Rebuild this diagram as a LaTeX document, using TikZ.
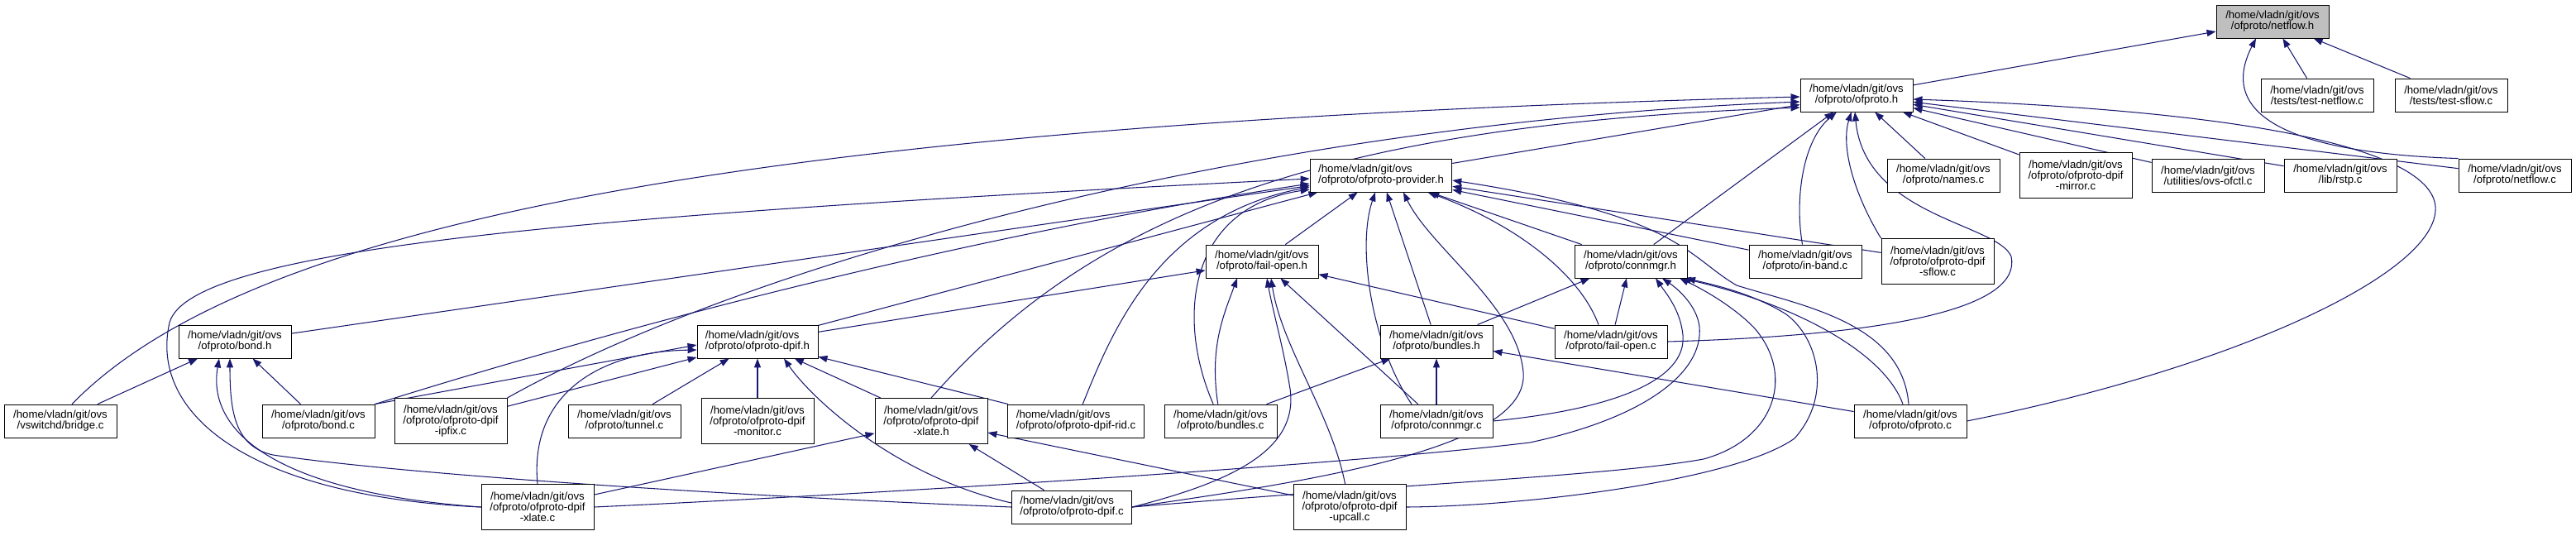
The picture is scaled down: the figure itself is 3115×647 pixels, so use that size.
\documentclass[tikz,border=0pt]{standalone}
\usepackage{fontspec}
\setmainfont{Liberation Sans}
\usetikzlibrary{arrows.meta,calc,backgrounds}
\definecolor{edgeblue}{HTML}{191970}
\definecolor{curgray}{HTML}{BFBFBF}
\newcommand{\ovsroot}{/home/vladn/git/ovs}

\begin{document}
\begin{tikzpicture}[x=0.2mm, y=-0.2mm, >={Triangle[length=2.2mm,width=1.6mm]},
	every node/.style={font=\fontsize{7.5}{7.4}\selectfont},
	fbox/.style={draw=black, line width=0.5pt, fill=white, align=center, minimum width=27.2mm, minimum height=8mm, inner xsep=2mm},
	tall/.style={minimum height=11mm},
	cur/.style={fill=curgray},
	incl/.style={->, edgeblue, line width=0.6pt}]
	\useasboundingbox (0,0) rectangle (3115,647);

	% rank 0-2
	\node[fbox, cur] (nfh) at (2748,26) {\ovsroot\\/ofproto/netflow.h};
	\node[fbox] (oh) at (2245,115) {\ovsroot\\/ofproto/ofproto.h};
	\node[fbox] (tnc) at (2802,115) {\ovsroot\\/tests/test-netflow.c};
	\node[fbox] (tsc) at (2964,115) {\ovsroot\\/tests/test-sflow.c};
	\node[fbox, align=left] (oph) at (1670,212) {\ovsroot\\/ofproto/ofproto-provider.h};
	\node[fbox] (names) at (2350,212) {\ovsroot\\/ofproto/names.c};
	\node[fbox, tall] (mirror) at (2510,212) {\ovsroot\\/ofproto/ofproto-dpif\\-mirror.c};
	\node[fbox] (ofctl) at (2670,212) {\ovsroot\\/utilities/ovs-ofctl.c};
	\node[fbox] (rstp) at (2830,212) {\ovsroot\\/lib/rstp.c};
	\node[fbox] (nfc) at (3041,212) {\ovsroot\\/ofproto/netflow.c};

	% rank 3-4
	\node[fbox] (foh) at (1526,316) {\ovsroot\\/ofproto/fail-open.h};
	\node[fbox] (cmh) at (1972,316) {\ovsroot\\/ofproto/connmgr.h};
	\node[fbox] (inband) at (2183,316) {\ovsroot\\/ofproto/in-band.c};
	\node[fbox, tall] (sflow) at (2343,316) {\ovsroot\\/ofproto/ofproto-dpif\\-sflow.c};
	\node[fbox] (bondh) at (284,413) {\ovsroot\\/ofproto/bond.h};
	\node[fbox, align=left] (dpifh) at (916,413) {\ovsroot\\/ofproto/ofproto-dpif.h};
	\node[fbox] (bundh) at (1737,413) {\ovsroot\\/ofproto/bundles.h};
	\node[fbox] (foc) at (1948,413) {\ovsroot\\/ofproto/fail-open.c};

	% rank 5-6
	\node[fbox] (bridge) at (73,509) {\ovsroot\\/vswitchd/bridge.c};
	\node[fbox] (bondc) at (385,509) {\ovsroot\\/ofproto/bond.c};
	\node[fbox, tall] (ipfix) at (545,509) {\ovsroot\\/ofproto/ofproto-dpif\\-ipfix.c};
	\node[fbox] (tunnel) at (755,509) {\ovsroot\\/ofproto/tunnel.c};
	\node[fbox, tall] (monitor) at (916,509) {\ovsroot\\/ofproto/ofproto-dpif\\-monitor.c};
	\node[fbox, tall] (xlateh) at (1126,509) {\ovsroot\\/ofproto/ofproto-dpif\\-xlate.h};
	\node[fbox, align=left] (rid) at (1301,509) {\ovsroot\\/ofproto/ofproto-dpif-rid.c};
	\node[fbox] (bundc) at (1476,509) {\ovsroot\\/ofproto/bundles.c};
	\node[fbox] (cmc) at (1737,509) {\ovsroot\\/ofproto/connmgr.c};
	\node[fbox] (ofc) at (2310,509) {\ovsroot\\/ofproto/ofproto.c};
	\node[fbox, tall] (xlatec) at (650,613) {\ovsroot\\/ofproto/ofproto-dpif\\-xlate.c};
	\node[fbox, align=left] (dpifc) at (1296,613) {\ovsroot\\/ofproto/ofproto-dpif.c};
	\node[fbox, tall] (upcall) at (1632,613) {\ovsroot\\/ofproto/ofproto-dpif\\-upcall.c};

	\begin{scope}[on background layer]
	% netflow.h
	\draw[incl] (oh) -- (nfh);
	\draw[incl] (tnc) -- (nfh);
	\draw[incl] (tsc) -- (nfh);
	\draw[incl] (nfc.north west) .. controls (2770,185) and (2680,140) .. ($(nfh.south)+(-20,0)$);

	% ofproto.h
	\draw[incl] (oph) -- (oh);
	\draw[incl] (names) -- (oh);
	\draw[incl] (mirror) -- (oh);
	\draw[incl] (ofctl) -- (oh);
	\draw[incl] (rstp) -- (oh);
	\draw[incl] (nfc) -- (oh);
	\draw[incl] (cmh) -- (oh);
	\draw[incl] (inband) .. controls (2170,240) and (2180,170) .. (oh);
	\draw[incl] (sflow.north west) .. controls (2245,240) and (2225,180) .. (oh);
	\draw[incl] (foc.east) .. controls (2300,405) and (2445,370) .. (2432,310) .. controls (2415,270) and (2255,262) .. ($(oh.south)+(-2,0)$);
	\draw[incl] (ofc.east) .. controls (2700,445) and (2950,330) .. (2945,250) .. controls (2940,185) and (2750,135) .. ($(oh.east)+(0,5)$);
	\draw[incl] ($(bridge.north)+(14,0)$) .. controls (300,270) and (900,150) .. ($(oh.west)+(0,2)$);
	\draw[incl] (ipfix.north east) .. controls (900,320) and (1500,150) .. ($(oh.west)+(0,8)$);
	\draw[incl] (xlateh.north) .. controls (1320,260) and (1600,150) .. ($(oh.west)+(0,15)$);

	% ofproto-provider.h
	\draw[incl] (xlatec.west) .. controls (300,600) and (180,500) .. (205,390) .. controls (230,300) and (700,260) .. ($(oph.west)+(0,4)$);
	\draw[incl] (bondh) -- (oph);
	\draw[incl] (bondc.north east) .. controls (800,380) and (1200,280) .. ($(oph.west)+(0,10)$);
	\draw[incl] (dpifh) -- (oph);
	\draw[incl] (rid) .. controls (1345,400) and (1400,262) .. ($(oph.west)+(0,14)$);
	\draw[incl] (bundc) .. controls (1420,380) and (1440,250) .. ($(oph.west)+(0,17)$);
	\draw[incl] (foh) -- (oph);
	\draw[incl] ($(cmc.north)+(-30,0)$) .. controls (1660,420) and (1640,300) .. (oph);
	\draw[incl] (bundh) -- (oph);
	\draw[incl] (cmh) -- (oph);
	\draw[incl] ($(foc.north)+(-15,0)$) .. controls (1910,330) and (1830,270) .. (oph);
	\draw[incl] (inband) -- (oph);
	\draw[incl] (sflow) -- (oph);
	\draw[incl] ($(ofc.north)+(-2,0)$) .. controls (2300,390) and (2180,370) .. (2100,345) .. controls (2040,310) and (2030,260) .. ($(oph.east)+(0,6)$);
	\draw[incl] (dpifc.east) .. controls (1600,580) and (1850,540) .. (1842,450) .. controls (1835,370) and (1730,300) .. ($(oph.south)+(27,0)$);

	% fail-open.h
	\draw[incl] (dpifh) -- (foh);
	\draw[incl] (foc) -- (foh);
	\draw[incl] (bundc) .. controls (1462,420) and (1480,380) .. ($(foh.south)+(-30,0)$);
	\draw[incl] (dpifc.east) .. controls (1500,580) and (1570,540) .. (1560,470) .. controls (1552,420) and (1540,380) .. ($(foh.south)+(6,0)$);
	\draw[incl] (upcall) .. controls (1610,500) and (1550,420) .. ($(foh.south)+(11,0)$);
	\draw[incl] (cmc) -- (foh);

	% connmgr.h
	\draw[incl] (bundh) -- (cmh);
	\draw[incl] (foc) -- (cmh);
	\draw[incl] (cmc.east) .. controls (1950,495) and (2040,460) .. (2035,405) .. controls (2032,375) and (2015,355) .. ($(cmh.south)+(30,0)$);
	\draw[incl] (xlatec.east) .. controls (1000,600) and (1600,565) .. (1850,535) .. controls (1990,505) and (2060,450) .. (2055,395) .. controls (2052,370) and (2030,350) .. ($(cmh.south)+(38,0)$);
	\draw[incl] (dpifc.east) .. controls (1700,585) and (1950,575) .. (2060,555) .. controls (2150,530) and (2170,450) .. (2120,395) .. controls (2095,370) and (2060,350) .. ($(cmh.south)+(59,0)$);
	\draw[incl] (upcall.east) .. controls (1850,612) and (2100,580) .. (2170,530) .. controls (2215,480) and (2200,410) .. (2160,380) .. controls (2120,355) and (2075,345) .. ($(cmh.south)+(67,0)$);
	\draw[incl] ($(ofc.north)+(-9,0)$) .. controls (2280,430) and (2180,370) .. ($(cmh.south)+(62,0)$);

	% bundles.h
	\draw[incl] (bundc) -- (bundh);
	\draw[incl] (cmc) -- (bundh);
	\draw[incl] (ofc) -- (bundh);

	% ofproto-dpif.h
	\draw[incl] (bondc.north east) -- ($(dpifh.west)+(0,4)$);
	\draw[incl] (ipfix) -- (dpifh);
	\draw[incl] (xlatec.north) .. controls (640,480) and (720,425) .. ($(dpifh.west)+(0,10)$);
	\draw[incl] (tunnel) -- (dpifh);
	\draw[incl] (monitor) -- (dpifh);
	\draw[incl] ($(dpifc.west)+(0,-5)$) .. controls (1080,575) and (980,480) .. ($(dpifh.south)+(32,0)$);
	\draw[incl] (xlateh) -- (dpifh);
	\draw[incl] (rid) -- (dpifh);

	% ofproto-dpif-xlate.h
	\draw[incl] (xlatec) -- (xlateh);
	\draw[incl] (dpifc) -- (xlateh);
	\draw[incl] (upcall) -- (xlateh);

	% bond.h
	\draw[incl] (bridge) -- (bondh);
	\draw[incl] (bondc) -- (bondh);
	\draw[incl] (xlatec.west) .. controls (330,595) and (250,520) .. ($(bondh.south)+(-19,0)$);
	\draw[incl] (dpifc.west) .. controls (900,600) and (500,575) .. (330,550) .. controls (285,540) and (278,500) .. ($(bondh.south)+(-6,0)$);
	\end{scope}
\end{tikzpicture}
\end{document}
